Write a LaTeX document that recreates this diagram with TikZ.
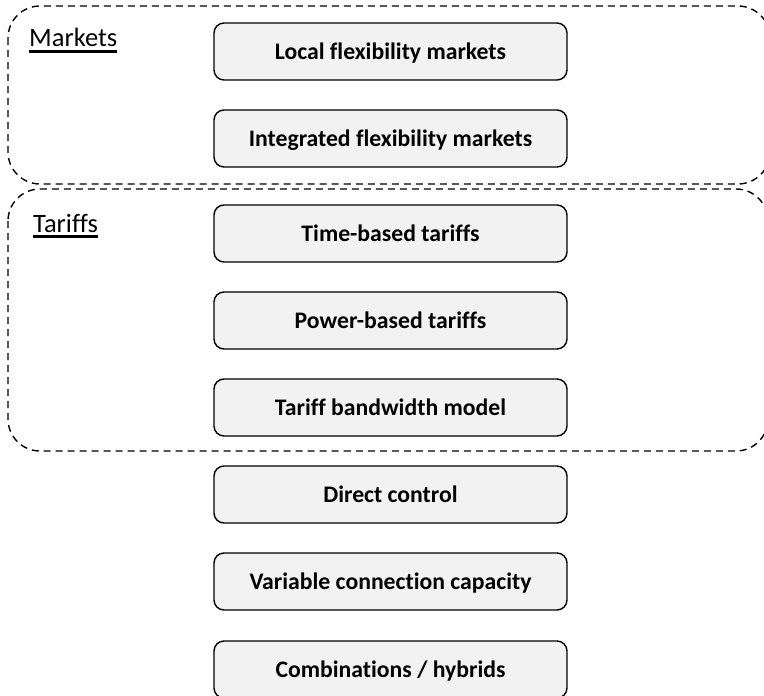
\documentclass[tikz,border=0pt]{standalone}
\usepackage{fontspec}
\setmainfont{Carlito}[Ligatures=NoCommon]
\definecolor{boxfill}{HTML}{F2F2F2}
\newcommand{\grpul}[1]{\setbox0\hbox{#1}\rlap{\vrule width \wd0 height -3.3pt depth 6pt}\box0}
\tikzset{
  optbox/.style={draw=black, line width=1.4pt, fill=boxfill, rounded corners=10pt,
    minimum width=353pt, minimum height=57pt, inner sep=0pt,
    text height=15.3pt, text depth=0pt,
    font=\fontsize{23.7}{28}\selectfont\bfseries},
  groupframe/.style={draw=black, line width=1.4pt, dash pattern=on 7pt off 5pt, rounded corners=32pt},
  grouplabel/.style={anchor=base west, inner sep=0pt, font=\fontsize{26.5}{31}\selectfont}
}
\begin{document}
\begin{tikzpicture}[x=1pt,y=-1pt]
\useasboundingbox (0,0) rectangle (764,696);
\begin{scope}
\clip (0,0) rectangle (764,696);
\draw[groupframe] (8,6) rectangle (770,184);
\draw[groupframe] (8,189) rectangle (768,451);
\node[optbox] (b1) at (390.5,51.5) {Local flexibility markets};
\node[optbox] (b2) at (390.5,138.5) {Integrated flexibility markets};
\node[optbox] (b3) at (390.5,233.5) {Time-based tariffs};
\node[optbox] (b4) at (390.5,320.5) {Power-based tariffs};
\node[optbox] (b5) at (390.5,407.5) {Tariff bandwidth model};
\node[optbox] (b6) at (390.5,494.5) {Direct control};
\node[optbox] (b7) at (390.5,581.5) {Variable connection capacity};
\node[optbox] (b8) at (390.5,669.5) {Combinations / hybrids};
\node[grouplabel] (lm) at (29,46.7) {\grpul{Markets}};
\node[grouplabel] (lt) at (33,232) {\grpul{Tariffs}};
\end{scope}
\end{tikzpicture}
\end{document}
